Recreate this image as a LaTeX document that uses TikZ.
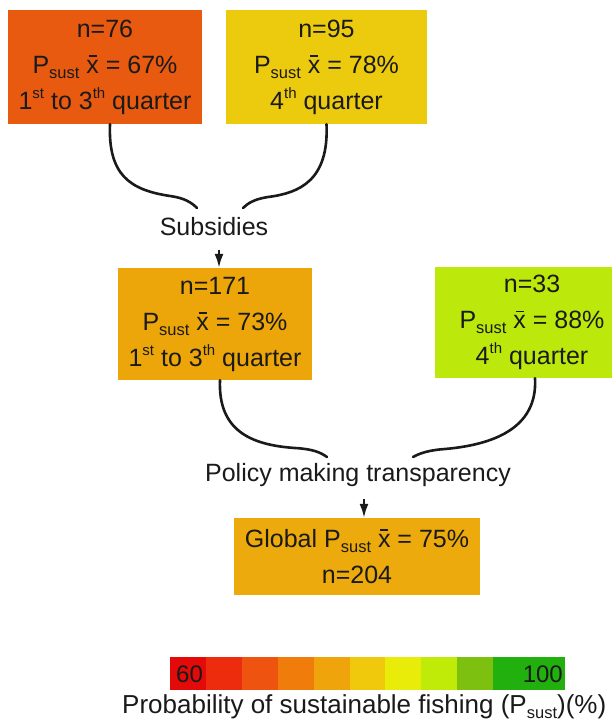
\documentclass[tikz,border=0pt]{standalone}
\usepackage{fontspec}
\setmainfont{Liberation Sans}
\usetikzlibrary{arrows.meta}
\definecolor{cA}{HTML}{E85A10}
\definecolor{cB}{HTML}{ECCB0E}
\definecolor{cC}{HTML}{EDA60A}
\definecolor{cD}{HTML}{BCE80C}
\definecolor{cE}{HTML}{EDAA0C}
\definecolor{ink}{HTML}{1A1A1A}
\newcommand\subs[1]{\raisebox{-5pt}{\fontsize{16.5}{16.5}\selectfont #1}}
\newcommand\sups[1]{\raisebox{11pt}{\fontsize{15}{15}\selectfont #1}}
\newcommand\xb{\leavevmode\rlap{\raisebox{0.66em}{\kern0.09em\rule{0.32em}{1.5pt}}}x}
\begin{document}
\begin{tikzpicture}[x=1pt,y=-1pt,
  box/.style={rectangle, inner sep=0pt, minimum width=194pt, minimum height=114pt,
    align=center, font=\fontsize{25}{36}\selectfont, text=ink},
  lab/.style={inner sep=1pt, font=\fontsize{25}{30}\selectfont, text=ink},
  link/.style={line width=2.6pt, line cap=round, ink},
  arr/.style={line width=2.2pt, ink, -{Latex[length=14pt,width=9pt]}}]
\clip (0,0) rectangle (612,722);
\fill[white] (0,0) rectangle (612,722);
% boxes
\node[box, fill=cA] (b1) at (105,67) {n=76\\P\subs{sust} \xb{} = 67\%\\1\sups{st} to 3\sups{th} quarter};
\node[box, minimum width=201pt, fill=cB] (b2) at (326.5,67) {n=95\\P\subs{sust} \xb{} = 78\%\\4\sups{th} quarter};
\node[box, minimum height=112pt, fill=cC] (b3) at (215,324) {n=171\\P\subs{sust} \xb{} = 73\%\\1\sups{st} to 3\sups{th} quarter};
\node[box, minimum height=111pt, fill=cD] (b4) at (532,322.5) {n=33\\P\subs{sust} \xb{} = 88\%\\4\sups{th} quarter};
\node[box, minimum width=246pt, minimum height=77pt, fill=cE] (b5) at (357,556.5) {Global P\subs{sust} \xb{} = 75\%\\n=204};
% labels
\node[lab] (sub) at (214,227) {Subsidies};
\node[lab] (pol) at (358,475) {Policy making transparency};
% brace ends
\coordinate (sL) at (197,208);
\coordinate (sR) at (243,208);
\coordinate (pL) at (327,457);
\coordinate (pR) at (413,457);
\draw[link] ([xshift=5pt]b1.south) .. controls (108,175) and (130,190) .. (170,196)
  .. controls (185,198) and (192,203) .. (sL);
\draw[link] (b2.south) .. controls (329,180) and (300,193) .. (268,197)
  .. controls (255,199) and (248,203) .. (sR);
\draw[link] ([xshift=5pt]b3.south) .. controls (218,430) and (250,445) .. (295,448)
  .. controls (312,449) and (320,452) .. (pL);
\draw[link] ([xshift=3pt]b4.south) .. controls (538,430) and (490,445) .. (445,449)
  .. controls (430,450) and (420,453) .. (pR);
% arrows
\coordinate (a1) at (219,250);
\coordinate (a2) at (364,499);
\draw[arr] (a1) -- (a1 |- b3.north);
\draw[arr] (a2) -- (a2 |- b5.north);
% colour bar
\foreach \c [count=\i from 0] in {E30A0A,EC2C0C,EE5410,F07C0C,F0A40C,F0C80C,E8EC08,C0EA08,7EC010,22B00E,22B00E}{
  \definecolor{seg}{HTML}{\c}
  \fill[seg] (170+\i*35.909,657) rectangle (170+\i*35.909+35.909,690);
}
\node[anchor=west, inner sep=0pt, font=\fontsize{24}{24}\selectfont, text=ink] (l60) at (176,674) {60};
\node[anchor=east, inner sep=0pt, font=\fontsize{24}{24}\selectfont, text=ink] (l100) at (563,674) {100};
\node[anchor=base west, inner sep=0pt, font=\fontsize{26}{30}\selectfont, text=ink] (cap) at (122,713) {Probability of sustainable fishing (P\subs{sust})(\%)};
\end{tikzpicture}
\end{document}
